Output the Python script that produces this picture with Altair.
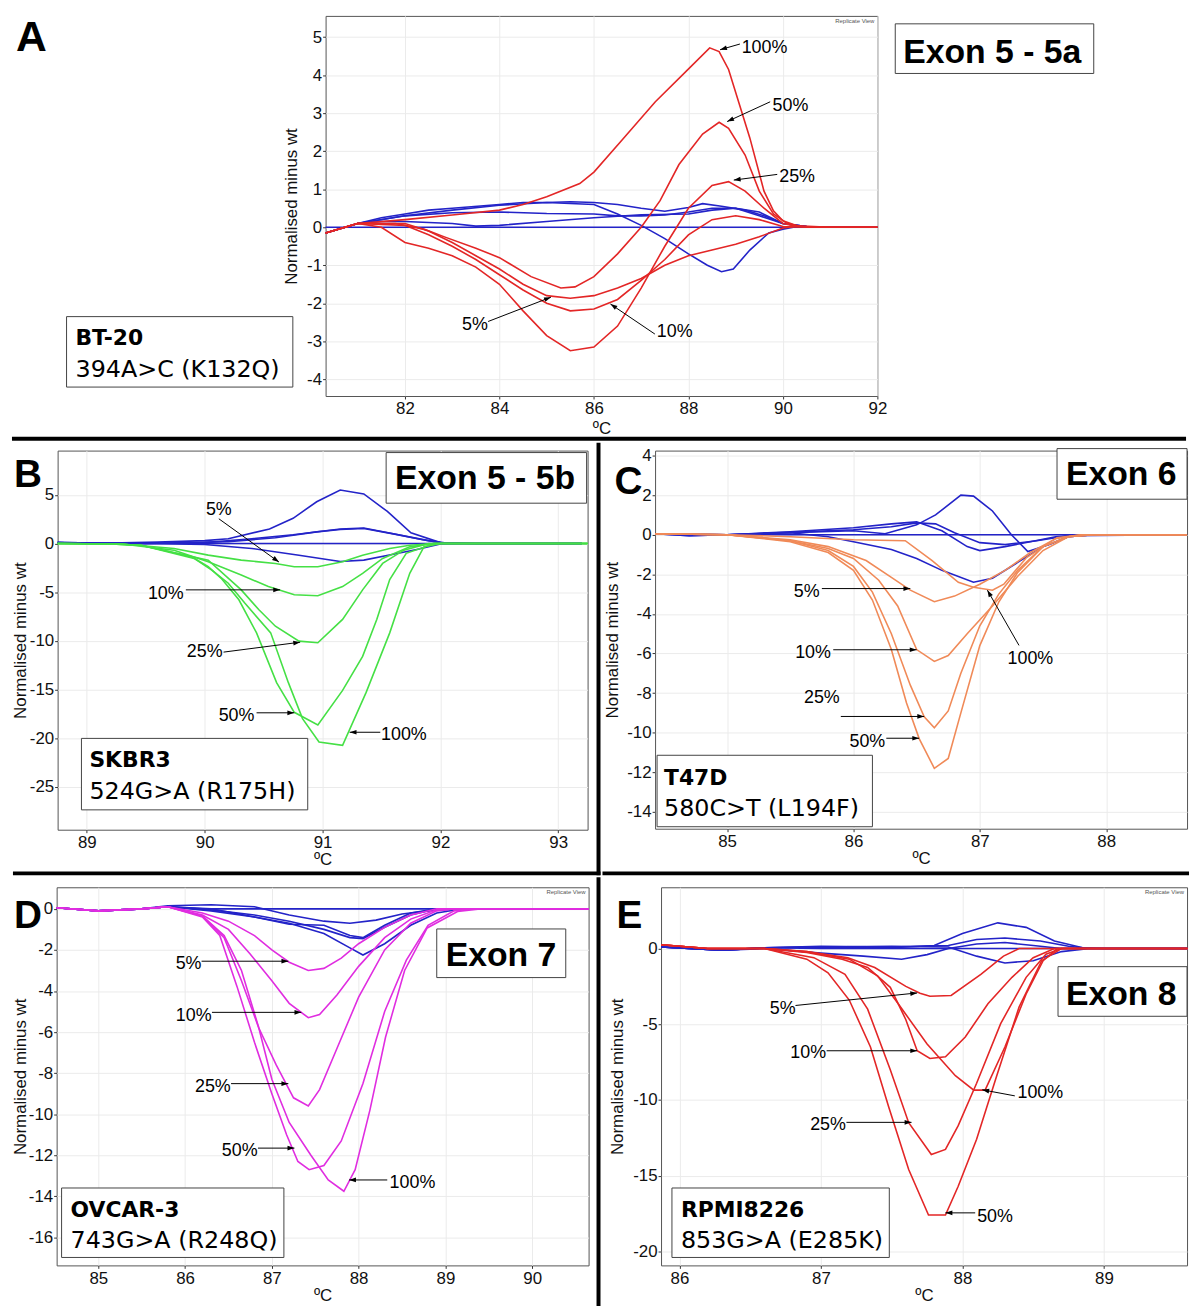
import math
import altair as alt
import pandas as pd

# ======================= DATA =======================
# ---- Panel A (Exon 5 - 5a, BT-20) ----
A_X_TICKS = [82, 84, 86, 88, 90, 92]
A_Y_TICKS = [-4, -3, -2, -1, 0, 1, 2, 3, 4, 5]
A_MUT_100 = [(80.32, -0.15), (81.0, 0.1), (82.0, 0.2), (83.0, 0.32), (84.0, 0.45), (84.5, 0.6), (85.0, 0.8),
             (85.7, 1.15), (86.0, 1.45), (86.6, 2.3), (87.3, 3.3), (87.95, 4.1), (88.45, 4.72), (88.65, 4.62),
             (88.85, 4.15), (89.3, 2.35), (89.6, 0.95), (89.8, 0.43), (90.0, 0.17), (90.3, 0.04), (91.0, 0.0),
             (92.0, 0.0)]
A_MUT_50 = [(80.32, -0.15), (81.0, 0.1), (81.8, 0.1), (82.4, -0.05), (82.85, -0.26), (83.5, -0.55), (84.0, -0.8),
            (84.67, -1.3), (85.3, -1.6), (85.6, -1.57), (86.0, -1.3), (86.5, -0.7), (87.0, 0.0), (87.4, 0.7),
            (87.8, 1.65), (88.3, 2.45), (88.65, 2.76), (88.85, 2.6), (89.2, 1.9), (89.5, 0.95), (89.8, 0.35),
            (90.1, 0.09), (90.5, 0.0), (92.0, 0.0)]
A_MUT_25 = [(80.32, -0.15), (81.0, 0.1), (81.5, 0.0), (82.0, -0.4), (82.5, -0.55), (83.0, -0.75), (83.5, -1.05),
            (84.0, -1.5), (84.5, -2.2), (85.0, -2.85), (85.5, -3.25), (86.0, -3.15), (86.5, -2.6), (87.0, -1.6),
            (87.5, -0.5), (88.0, 0.5), (88.5, 1.1), (88.85, 1.2), (89.2, 0.95), (89.6, 0.5), (90.0, 0.1),
            (90.3, 0.02), (91.0, 0.0), (92.0, 0.0)]
A_MUT_10 = [(80.32, -0.15), (81.0, 0.1), (82.0, 0.05), (82.5, -0.2), (83.0, -0.5), (83.5, -0.85), (84.0, -1.25),
            (84.5, -1.65), (85.0, -2.0), (85.5, -2.2), (86.0, -2.15), (86.5, -1.9), (87.0, -1.4), (87.5, -0.85),
            (88.0, -0.2), (88.5, 0.2), (89.0, 0.3), (89.5, 0.2), (90.0, 0.02), (91.0, 0.0), (92.0, 0.0)]
A_MUT_5 = [(80.32, -0.15), (81.0, 0.1), (82.0, 0.1), (82.5, -0.1), (83.0, -0.4), (83.5, -0.75), (84.0, -1.1),
           (84.5, -1.5), (85.0, -1.8), (85.5, -1.87), (86.0, -1.8), (86.5, -1.6), (87.0, -1.35), (87.5, -1.0),
           (88.0, -0.75), (88.5, -0.6), (89.0, -0.45), (89.5, -0.25), (90.0, -0.02), (90.3, 0.02), (91.0, 0.0),
           (92.0, 0.0)]
A_WT_1 = [(80.32, 0.0), (86.0, 0.0), (92.0, 0.0)]
A_WT_2 = [(80.32, -0.15), (81.0, 0.1), (81.5, 0.25), (82.0, 0.35), (82.5, 0.45), (83.0, 0.5), (84.0, 0.6),
          (84.5, 0.65), (85.0, 0.65), (85.5, 0.67), (86.0, 0.65), (86.5, 0.6), (87.0, 0.5), (87.5, 0.42),
          (88.0, 0.52), (88.3, 0.62), (88.7, 0.55), (89.2, 0.45), (89.6, 0.3), (90.0, 0.1), (90.5, 0.02), (92.0, 0.0)]
A_WT_3 = [(80.32, -0.15), (81.0, 0.1), (82.0, 0.3), (83.0, 0.38), (84.0, 0.4), (85.0, 0.36), (86.0, 0.35),
          (86.5, 0.3), (87.0, 0.3), (87.5, 0.32), (88.0, 0.4), (88.5, 0.5), (89.0, 0.5), (89.5, 0.4), (90.0, 0.1),
          (90.5, 0.02), (92.0, 0.0)]
A_WT_4 = [(80.32, -0.15), (81.0, 0.1), (81.5, 0.15), (82.0, 0.15), (83.0, 0.1), (83.5, 0.03), (84.0, 0.05),
          (85.0, 0.15), (86.0, 0.25), (87.0, 0.33), (88.0, 0.35), (88.5, 0.45), (89.0, 0.5), (89.5, 0.3),
          (90.0, 0.1), (90.5, 0.02), (92.0, 0.0)]
A_WT_5 = [(80.32, -0.15), (81.0, 0.1), (82.0, 0.3), (83.0, 0.45), (84.0, 0.58), (85.0, 0.65), (86.0, 0.6),
          (86.5, 0.35), (87.0, 0.05), (87.5, -0.3), (88.0, -0.7), (88.4, -1.0), (88.7, -1.17), (88.95, -1.1),
          (89.3, -0.6), (89.7, -0.15), (90.0, -0.05), (90.3, 0.02), (91.0, 0.0), (92.0, 0.0)]
A_ARROWS = [(89.09, 4.82, 88.67, 4.67), (89.73, 3.3, 88.82, 2.78), (89.88, 1.39, 88.96, 1.24),
            (83.76, -2.48, 85.09, -1.84), (87.29, -2.81, 86.35, -2.02)]
A_LABELS = [("100%", 89.61, 4.71), ("50%", 90.16, 3.2), ("25%", 90.3, 1.33), ("5%", 83.48, -2.56),
            ("10%", 87.71, -2.76)]

# ---- Panel B (Exon 5 - 5b, SKBR3) ----
B_X_TICKS = [89, 90, 91, 92, 93]
B_Y_TICKS = [5, 0, -5, -10, -15, -20, -25]
B_MUT_100 = [(88.752, 0.0), (89.2, -0.05), (89.46, -0.17), (89.91, -1.53), (90.06, -2.72), (90.2, -4.08),
             (90.34, -6.12), (90.56, -9.18), (90.71, -14.3), (90.83, -18.0), (90.97, -20.4), (91.17, -20.75),
             (91.37, -15.3), (91.57, -9.18), (91.74, -3.06), (91.86, -0.34), (92.0, 0.0), (93.249, 0.0)]
B_MUT_50 = [(88.752, 0.0), (89.2, -0.05), (89.46, -0.17), (89.89, -1.36), (90.03, -2.38), (90.14, -3.57),
            (90.29, -5.78), (90.44, -9.18), (90.61, -14.3), (90.76, -17.35), (90.96, -18.64), (91.17, -15.1),
            (91.34, -11.6), (91.46, -7.8), (91.57, -3.7), (91.71, -1.0), (91.95, 0.0), (93.249, 0.0)]
B_MUT_25 = [(88.752, 0.0), (89.2, -0.05), (89.46, -0.17), (90.03, -1.7), (90.31, -4.76), (90.46, -6.8),
            (90.6, -8.5), (90.8, -10.03), (90.96, -10.2), (91.17, -7.8), (91.34, -4.76), (91.51, -2.04),
            (91.69, -0.68), (91.9, 0.0), (93.249, 0.0)]
B_MUT_10 = [(88.752, 0.0), (89.3, -0.05), (89.74, -0.68), (90.03, -1.87), (90.31, -3.23), (90.54, -4.42),
            (90.76, -5.27), (90.96, -5.37), (91.17, -4.42), (91.34, -3.06), (91.51, -1.53), (91.74, -0.34),
            (91.95, 0.0), (93.249, 0.0)]
B_MUT_5 = [(88.752, 0.0), (89.3, -0.05), (89.74, -0.5), (90.03, -1.19), (90.31, -1.7), (90.6, -2.04),
           (90.76, -2.38), (90.96, -2.38), (91.17, -1.87), (91.34, -1.19), (91.57, -0.51), (91.74, -0.17),
           (91.95, 0.0), (93.249, 0.0)]
B_WT_1 = [(88.752, 0.1), (89.0, 0.0), (91.0, 0.0), (93.2, 0.0)]
B_WT_2 = [(88.752, 0.1), (89.0, 0.0), (89.6, 0.15), (90.0, 0.3), (90.2, 0.5), (90.55, 1.5), (90.75, 2.6),
          (90.95, 4.3), (91.15, 5.5), (91.35, 5.1), (91.55, 3.3), (91.75, 1.1), (92.0, 0.1), (92.3, 0.0), (93.2, 0.0)]
B_WT_3 = [(88.752, 0.1), (89.5, 0.0), (90.0, 0.1), (90.4, 0.5), (90.75, 0.9), (91.15, 1.5), (91.35, 1.6),
          (91.6, 1.0), (91.85, 0.4), (92.0, 0.1), (92.3, 0.0), (93.2, 0.0)]
B_WT_4 = [(88.752, 0.1), (89.5, 0.0), (90.2, 0.2), (90.6, 0.6), (90.95, 1.2), (91.15, 1.45), (91.35, 1.55),
          (91.6, 1.0), (91.9, 0.3), (92.05, 0.05), (93.2, 0.0)]
B_WT_5 = [(88.752, 0.1), (89.5, 0.0), (90.0, -0.1), (90.4, -0.5), (90.8, -1.2), (91.15, -1.85), (91.35, -1.7),
          (91.6, -1.1), (91.8, -0.6), (92.0, -0.05), (93.2, 0.0)]
B_ARROWS = [(90.12, 2.55, 90.63, -1.9), (89.84, -4.76, 90.64, -4.76), (90.16, -11.16, 90.81, -10.14),
            (90.44, -17.4, 90.76, -17.4), (91.49, -19.4, 91.23, -19.4)]
B_LABELS = [("5%", 90.12, 3.4), ("10%", 89.67, -5.17), ("25%", 90.0, -11.2), ("50%", 90.27, -17.75),
            ("100%", 91.69, -19.7)]

# ---- Panel C (Exon 6, T47D) ----
C_X_TICKS = [85, 86, 87, 88]
C_Y_TICKS = [4, 2, 0, -2, -4, -6, -8, -10, -12, -14]
C_MUT_100 = [(84.43, 0.05), (85.0, 0.0), (85.5, -0.1), (86.0, -0.25), (86.41, -0.3), (86.62, -1.3), (86.83, -2.4),
             (86.95, -2.65), (87.1, -2.8), (87.19, -2.5), (87.37, -1.15), (87.61, -0.15), (87.8, 0.0), (88.64, 0.0)]
C_MUT_50 = [(84.43, 0.05), (85.0, 0.0), (85.5, -0.35), (85.8, -0.9), (86.0, -1.8), (86.15, -3.3), (86.3, -5.8),
            (86.42, -8.5), (86.52, -10.3), (86.64, -11.8), (86.75, -11.3), (86.85, -9.0), (87.0, -5.6),
            (87.15, -3.4), (87.3, -1.9), (87.5, -0.6), (87.7, -0.1), (87.9, 0.0), (88.64, 0.0)]
C_MUT_25 = [(84.43, 0.05), (85.0, 0.0), (85.5, -0.3), (85.8, -0.8), (86.0, -1.6), (86.15, -2.9), (86.3, -5.0),
            (86.45, -7.6), (86.56, -9.2), (86.64, -9.75), (86.75, -8.9), (86.85, -7.0), (87.0, -4.6),
            (87.15, -3.0), (87.3, -1.8), (87.5, -0.6), (87.7, -0.1), (87.9, 0.0), (88.64, 0.0)]
C_MUT_10 = [(84.43, 0.05), (85.0, 0.0), (85.5, -0.3), (85.8, -0.7), (86.0, -1.2), (86.2, -2.3), (86.35, -3.6),
            (86.5, -5.8), (86.64, -6.4), (86.75, -6.1), (86.9, -5.0), (87.1, -3.6), (87.3, -2.1), (87.5, -0.8),
            (87.7, -0.1), (87.9, 0.0), (88.64, 0.0)]
C_MUT_5 = [(84.43, 0.05), (85.0, 0.0), (85.5, -0.25), (85.8, -0.6), (86.1, -1.3), (86.3, -2.15), (86.45, -2.8),
           (86.64, -3.38), (86.8, -3.1), (87.0, -2.5), (87.2, -1.8), (87.4, -0.9), (87.6, -0.2), (87.8, 0.0),
           (88.64, 0.0)]
C_WT_1 = [(84.43, 0.05), (84.7, -0.05), (85.0, 0.0), (88.64, 0.0)]
C_WT_2 = [(84.43, 0.05), (84.7, -0.05), (85.0, 0.0), (85.5, 0.1), (86.0, 0.2), (86.25, 0.05), (86.5, 0.5),
          (86.65, 1.0), (86.85, 2.0), (86.95, 1.95), (87.1, 1.2), (87.25, 0.0), (87.38, -0.85), (87.55, -0.5),
          (87.7, -0.1), (87.9, 0.0), (88.64, 0.0)]
C_WT_3 = [(84.43, 0.05), (85.0, 0.0), (85.5, 0.15), (86.0, 0.35), (86.3, 0.55), (86.5, 0.65), (86.7, 0.2),
          (86.9, -0.6), (87.0, -0.8), (87.2, -0.6), (87.4, -0.35), (87.6, -0.1), (87.8, 0.0), (88.64, 0.0)]
C_WT_4 = [(84.43, 0.05), (85.0, 0.0), (85.5, 0.1), (85.8, -0.1), (86.0, -0.35), (86.3, -0.75), (86.5, -1.2),
          (86.7, -1.8), (86.95, -2.4), (87.1, -2.2), (87.3, -1.4), (87.5, -0.6), (87.7, -0.1), (87.9, 0.0),
          (88.64, 0.0)]
C_WT_5 = [(84.43, 0.05), (85.0, 0.0), (85.5, 0.12), (86.0, 0.25), (86.3, 0.4), (86.5, 0.6), (86.65, 0.55),
          (86.8, 0.1), (87.0, -0.4), (87.2, -0.5), (87.45, -0.3), (87.7, -0.05), (88.64, 0.0)]
C_ARROWS = [(85.75, -2.72, 86.45, -2.72), (85.84, -5.81, 86.5, -5.81), (85.9, -9.18, 86.56, -9.18),
            (86.26, -10.28, 86.52, -10.28), (87.31, -5.59, 87.06, -2.8)]
C_LABELS = [("5%", 85.63, -2.89), ("10%", 85.68, -5.98), ("25%", 85.75, -8.23), ("50%", 86.11, -10.48),
            ("100%", 87.4, -6.28)]

# ---- Panel D (Exon 7, OVCAR-3) ----
D_X_TICKS = [85, 86, 87, 88, 89, 90]
D_Y_TICKS = [0, -2, -4, -6, -8, -10, -12, -14, -16]
D_MUT_100 = [(84.52, 0.05), (85.0, -0.1), (85.5, 0.0), (85.8, 0.1), (86.2, -0.35), (86.45, -1.3), (86.65, -3.0),
             (86.85, -5.8), (87.0, -8.3), (87.2, -10.4), (87.45, -12.0), (87.65, -13.2), (87.83, -13.75),
             (87.96, -12.7), (88.13, -9.8), (88.31, -6.25), (88.53, -3.0), (88.79, -0.93), (89.14, -0.13),
             (89.4, 0.0), (90.65, 0.0)]
D_MUT_50 = [(84.52, 0.05), (85.0, -0.1), (85.5, 0.0), (85.8, 0.1), (86.2, -0.4), (86.4, -1.3), (86.6, -3.8),
            (86.8, -6.5), (87.0, -9.0), (87.17, -11.0), (87.3, -12.3), (87.43, -12.7), (87.6, -12.5), (87.8, -11.3),
            (88.05, -8.5), (88.3, -5.0), (88.55, -2.5), (88.8, -0.8), (89.1, -0.1), (89.3, 0.0), (90.65, 0.0)]
D_MUT_25 = [(84.52, 0.05), (85.0, -0.1), (85.5, 0.0), (85.8, 0.1), (86.2, -0.35), (86.45, -1.4), (86.65, -3.5),
            (86.85, -5.8), (87.05, -7.6), (87.25, -9.2), (87.42, -9.6), (87.55, -8.8), (87.75, -6.8), (88.0, -4.3),
            (88.3, -2.0), (88.6, -0.7), (88.9, -0.1), (89.1, 0.0), (90.65, 0.0)]
D_MUT_10 = [(84.52, 0.05), (85.0, -0.1), (85.5, 0.0), (85.8, 0.1), (86.2, -0.3), (86.5, -1.0), (86.75, -2.2),
            (87.0, -3.5), (87.2, -4.6), (87.42, -5.3), (87.55, -5.15), (87.75, -4.2), (88.0, -2.8), (88.3, -1.4),
            (88.6, -0.5), (88.9, -0.05), (89.1, 0.0), (90.65, 0.0)]
D_MUT_5 = [(84.52, 0.05), (85.0, -0.1), (85.5, 0.0), (85.8, 0.1), (86.2, -0.2), (86.5, -0.6), (86.8, -1.3),
           (87.0, -2.0), (87.2, -2.6), (87.42, -3.0), (87.6, -2.9), (87.8, -2.4), (88.0, -1.7), (88.3, -0.9),
           (88.6, -0.3), (88.9, 0.0), (90.65, 0.0)]
D_WT_1 = [(84.52, 0.05), (85.0, -0.1), (85.5, 0.0), (85.8, 0.1), (86.2, 0.0), (90.65, 0.0)]
D_WT_2 = [(84.52, 0.05), (85.0, -0.1), (85.5, 0.0), (85.8, 0.15), (86.3, 0.2), (86.8, 0.1), (87.2, -0.3),
          (87.6, -0.6), (87.9, -0.7), (88.2, -0.55), (88.5, -0.25), (88.9, -0.05), (89.3, 0.0), (90.65, 0.0)]
D_WT_3 = [(84.52, 0.05), (85.0, -0.1), (85.5, 0.0), (85.8, 0.1), (86.3, -0.05), (86.8, -0.3), (87.2, -0.6),
          (87.6, -1.0), (87.9, -1.4), (88.05, -1.45), (88.3, -0.9), (88.6, -0.3), (88.9, 0.0), (90.65, 0.0)]
D_WT_4 = [(84.52, 0.05), (85.0, -0.1), (85.5, 0.0), (85.8, 0.1), (86.3, 0.0), (86.8, -0.4), (87.2, -0.75),
          (87.6, -0.8), (87.9, -1.3), (88.05, -1.4), (88.3, -0.8), (88.6, -0.2), (88.9, 0.0), (90.65, 0.0)]
D_WT_5 = [(84.52, 0.05), (85.0, -0.1), (85.5, 0.0), (85.8, 0.1), (86.3, -0.1), (86.8, -0.4), (87.2, -0.7),
          (87.6, -1.2), (87.9, -1.9), (88.05, -2.25), (88.3, -1.7), (88.6, -0.8), (88.9, -0.2), (89.2, 0.0),
          (90.65, 0.0)]
D_ARROWS = [(86.19, -2.55, 87.19, -2.55), (86.31, -5.04, 87.34, -5.04), (86.53, -8.51, 87.19, -8.51),
            (86.84, -11.65, 87.26, -11.65), (88.33, -13.2, 87.89, -13.2)]
D_LABELS = [("5%", 86.04, -2.71), ("10%", 86.1, -5.2), ("25%", 86.32, -8.67), ("50%", 86.63, -11.8),
            ("100%", 88.62, -13.37)]

# ---- Panel E (Exon 8, RPMI8226) ----
E_X_TICKS = [86, 87, 88, 89]
E_Y_TICKS = [0, -5, -10, -15, -20]
E_MUT_100 = [(85.87, 0.25), (86.2, 0.0), (86.6, 0.0), (86.9, -0.2), (87.2, -0.7), (87.4, -1.8), (87.55, -3.7),
             (87.75, -6.3), (87.95, -8.4), (88.08, -9.35), (88.16, -9.35), (88.3, -6.5), (88.45, -3.0),
             (88.57, -0.8), (88.67, 0.0), (89.59, 0.0)]
E_MUT_50 = [(85.87, 0.25), (86.2, 0.0), (86.6, 0.0), (86.9, -0.7), (87.05, -1.6), (87.2, -3.4), (87.35, -6.5),
            (87.48, -10.5), (87.62, -14.6), (87.76, -17.6), (87.88, -17.6), (87.97, -15.7), (88.1, -12.6),
            (88.24, -8.46), (88.4, -3.87), (88.56, -0.8), (88.7, 0.0), (89.59, 0.0)]
E_MUT_25 = [(85.87, 0.25), (86.2, 0.0), (86.6, 0.0), (86.95, -0.6), (87.17, -1.7), (87.33, -4.0), (87.49, -8.0),
            (87.62, -11.5), (87.78, -13.6), (87.88, -13.27), (87.97, -11.7), (88.1, -8.9), (88.27, -4.96),
            (88.45, -1.9), (88.59, -0.37), (88.7, 0.0), (89.59, 0.0)]
E_MUT_10 = [(85.87, 0.25), (86.2, 0.0), (86.6, 0.0), (86.9, -0.25), (87.15, -0.7), (87.33, -1.25), (87.49, -2.56),
            (87.6, -4.7), (87.68, -6.75), (87.77, -7.26), (87.88, -7.15), (88.02, -5.84), (88.18, -3.65),
            (88.35, -1.9), (88.5, -0.6), (88.65, 0.0), (89.59, 0.0)]
E_MUT_5 = [(85.87, 0.25), (86.2, 0.0), (86.6, 0.0), (86.9, -0.2), (87.19, -0.6), (87.38, -1.25), (87.6, -2.5),
           (87.7, -2.95), (87.77, -3.15), (87.92, -3.1), (88.13, -1.7), (88.29, -0.5), (88.4, 0.0), (89.59, 0.0)]
E_WT_1 = [(85.87, 0.1), (86.3, -0.1), (86.6, 0.05), (87.0, 0.0), (89.59, 0.0)]
E_WT_2 = [(85.87, 0.1), (86.3, -0.1), (86.6, 0.05), (87.0, 0.1), (87.5, 0.05), (87.8, 0.2), (88.0, 1.0),
          (88.25, 1.7), (88.45, 1.4), (88.65, 0.5), (88.85, 0.05), (89.0, 0.0), (89.59, 0.0)]
E_WT_3 = [(85.87, 0.1), (86.3, -0.1), (86.6, 0.05), (87.0, 0.15), (87.5, 0.1), (87.9, 0.2), (88.1, 0.6),
          (88.3, 0.7), (88.55, 0.5), (88.75, 0.15), (88.9, 0.0), (89.59, 0.0)]
E_WT_4 = [(85.87, 0.1), (86.3, -0.1), (86.6, 0.0), (87.0, -0.3), (87.3, -0.5), (87.57, -0.7), (87.75, -0.4),
          (87.9, 0.0), (88.1, 0.3), (88.3, 0.4), (88.5, 0.2), (88.7, 0.0), (89.59, 0.0)]
E_WT_5 = [(85.87, 0.1), (86.3, -0.1), (86.6, 0.05), (87.0, 0.1), (87.5, 0.15), (87.9, 0.1), (88.1, -0.5),
          (88.3, -0.95), (88.5, -0.8), (88.7, -0.2), (88.9, 0.0), (89.59, 0.0)]
E_ARROWS = [(86.82, -3.76, 87.68, -2.93), (87.04, -6.75, 87.68, -6.75), (87.18, -11.48, 87.64, -11.48),
            (88.09, -17.46, 87.88, -17.46), (88.37, -9.73, 88.14, -9.33)]
E_LABELS = [("5%", 86.73, -3.98), ("10%", 86.91, -6.93), ("25%", 87.05, -11.63), ("50%", 88.23, -17.75),
            ("100%", 88.55, -9.55)]

# ---- text labels ----
X_TITLE = "ºC"
Y_TITLE = "Normalised minus wt"
EXON_TEXT = {"A": "Exon 5 - 5a", "B": "Exon 5 - 5b", "C": "Exon 6", "D": "Exon 7", "E": "Exon 8"}
CELL_LINE = {"A": "BT-20", "B": "SKBR3", "C": "T47D", "D": "OVCAR-3", "E": "RPMI8226"}
MUTATION = {"A": "394A>C (K132Q)", "B": "524G>A (R175H)", "C": "580C>T (L194F)",
            "D": "743G>A (R248Q)", "E": "853G>A (E285K)"}

# ======================= STYLE / LAYOUT =======================
BLUE = "#2323C8"
MUT_COLOR = {"A": "#E32626", "B": "#45E045", "C": "#F08A58", "D": "#E02DE0", "E": "#E32626"}
FONT = "Liberation Sans"
BOXFONT = "DejaVu Sans"
HEAD_PATH = "M0,0L0.55,1.6L-0.55,1.6Z"

# local pixel layout (relative to each plot area's top-left corner)
LAYOUT = {
    "A": dict(W=556, H=383, xdom=(80.32, 92.0), ydom=(-4.44, 5.56), xticks=A_X_TICKS, yticks=A_Y_TICKS,
              wt=[A_WT_1, A_WT_2, A_WT_3, A_WT_4, A_WT_5], mut=[A_MUT_100, A_MUT_50, A_MUT_25, A_MUT_10, A_MUT_5],
              arrows=A_ARROWS, labels=A_LABELS,
              frame=(-316, -2, 867, 428), bars=[(-316, 424, 867, 428)],
              letter=(-312, 35, 43), exon_box=(574, 8, 774, 58), exon_txt=(582, 47),
              cell_box=(-261, 303, -33, 374), cell_txt=(-252, 332, 364), xty=25, ytx=-34.5, repl=(553, 5)),
    "B": dict(W=534, H=382, xdom=(88.752, 93.249), ydom=(-29.42, 9.56), xticks=B_X_TICKS, yticks=B_Y_TICKS,
              wt=[B_WT_1, B_WT_2, B_WT_3, B_WT_4, B_WT_5], mut=[B_MUT_100, B_MUT_50, B_MUT_25, B_MUT_10, B_MUT_5],
              arrows=B_ARROWS, labels=B_LABELS,
              frame=(-45, -8, 547, 428), bars=[(543, -8, 547, 428), (-45, 424, 547, 428)],
              letter=(-44, 37, 39), exon_box=(331, 2, 533, 53), exon_txt=(340, 39),
              cell_box=(24, 290, 252, 362), cell_txt=(32, 319, 351), xty=22, ytx=-37, repl=None),
    "C": dict(W=536, H=381, xdom=(84.43, 88.64), ydom=(-14.85, 4.25), xticks=C_X_TICKS, yticks=C_Y_TICKS,
              wt=[C_WT_1, C_WT_2, C_WT_3, C_WT_4, C_WT_5], mut=[C_MUT_100, C_MUT_50, C_MUT_25, C_MUT_10, C_MUT_5],
              arrows=C_ARROWS, labels=C_LABELS,
              frame=(-53, -8, 538, 428), bars=[(-53, 424, 538, 428)],
              letter=(-41, 44, 39), exon_box=(405, -2, 536, 49), exon_txt=(414, 35),
              cell_box=(2, 307, 219, 379), cell_txt=(9, 337, 368), xty=22, ytx=-43, repl=None),
    "D": dict(W=536, H=381, xdom=(84.52, 90.65), ydom=(-17.36, 1.05), xticks=D_X_TICKS, yticks=D_Y_TICKS,
              wt=[D_WT_1, D_WT_2, D_WT_3, D_WT_4, D_WT_5], mut=[D_MUT_100, D_MUT_50, D_MUT_25, D_MUT_10, D_MUT_5],
              arrows=D_ARROWS, labels=D_LABELS,
              frame=(-44, -10, 548, 422), bars=[(544, -10, 548, 422)],
              letter=(-43, 41, 39), exon_box=(383, 42, 513, 91), exon_txt=(392, 79),
              cell_box=(5, 303, 229, 373), cell_txt=(14, 332, 363), xty=22, ytx=-36, repl=(533, 5)),
    "E": dict(W=530, H=381, xdom=(85.87, 89.587), ydom=(-20.93, 4.05), xticks=E_X_TICKS, yticks=E_Y_TICKS,
              wt=[E_WT_1, E_WT_2, E_WT_3, E_WT_4, E_WT_5], mut=[E_MUT_100, E_MUT_50, E_MUT_25, E_MUT_10, E_MUT_5],
              arrows=E_ARROWS, labels=E_LABELS,
              frame=(-59, -10, 532, 422), bars=[],
              letter=(-45, 41, 39), exon_box=(400, 80, 530, 130), exon_txt=(408, 119),
              cell_box=(11, 303, 230, 373), cell_txt=(20, 332, 363), xty=22, ytx=-44, repl=(527, 5)),
}

MINUS_FIX = "replace(datum.label, '\u2212', '-')"


def curves_df(curves):
    rows = []
    for sid, pts in enumerate(curves):
        for i, (x, y) in enumerate(pts):
            rows.append({"x": x, "y": y, "s": sid, "i": i})
    return pd.DataFrame(rows)


def build_panel(key):
    L = LAYOUT[key]
    W, H = L["W"], L["H"]
    x0, x1 = L["xdom"]
    y0, y1 = L["ydom"]
    sx = W / (x1 - x0)
    sy = H / (y1 - y0)

    def px(p):
        return x0 + p / sx

    def py(p):
        return y1 - p / sy

    xscale = alt.Scale(domain=[x0, x1], nice=False, zero=False)
    yscale = alt.Scale(domain=[y0, y1], nice=False, zero=False)
    xaxis = alt.Axis(values=L["xticks"], format="d", title=X_TITLE, titleX=W / 2, titleY=L["xty"],
                     titleBaseline="top", titleAlign="center", labelFlush=False, labelOverlap=False,
                     tickSize=3, labelPadding=2, labelExpr=MINUS_FIX)
    yaxis = alt.Axis(values=L["yticks"], format="d", title=Y_TITLE, titleX=L["ytx"], titleY=H / 2,
                     titleAngle=270, titleBaseline="middle", titleAlign="center", labelFlush=False,
                     labelOverlap=False, tickSize=3, labelPadding=1, labelExpr=MINUS_FIX)

    def X():
        return alt.X("x:Q", scale=xscale, axis=xaxis)

    def Y():
        return alt.Y("y:Q", scale=yscale, axis=yaxis)

    def rect_df(boxes):
        return pd.DataFrame([{"x": px(b[0]), "y": py(b[1]), "x2": px(b[2]), "y2": py(b[3])} for b in boxes])

    layers = []
    # invisible frame that fixes this panel's cell size in the grid
    layers.append(alt.Chart(rect_df([L["frame"]])).mark_rect(opacity=0).encode(
        x=X(), y=Y(), x2="x2:Q", y2="y2:Q"))
    # wild-type (blue) and mutant curves
    layers.append(alt.Chart(curves_df(L["wt"])).mark_line(color=BLUE, strokeWidth=1.6).encode(
        x=X(), y=Y(), detail="s:N", order="i:Q"))
    layers.append(alt.Chart(curves_df(L["mut"])).mark_line(color=MUT_COLOR[key], strokeWidth=1.6).encode(
        x=X(), y=Y(), detail="s:N", order="i:Q"))
    # arrows
    arr = pd.DataFrame([{"x": a[0], "y": a[1], "x2": a[2], "y2": a[3]} for a in L["arrows"]])
    layers.append(alt.Chart(arr).mark_rule(color="black", strokeWidth=1).encode(
        x=X(), y=Y(), x2="x2:Q", y2="y2:Q"))
    heads = []
    for (tx, ty, hx, hy) in L["arrows"]:
        dx = (hx - tx) * sx
        dy = -(hy - ty) * sy
        ang = math.degrees(math.atan2(dx, -dy)) % 360
        heads.append({"x": hx, "y": hy, "a": ang})
    layers.append(alt.Chart(pd.DataFrame(heads)).mark_point(
        shape=HEAD_PATH, filled=True, color="black", opacity=1, size=75, strokeWidth=0).encode(
        x=X(), y=Y(), angle=alt.Angle("a:Q", scale=None)))
    lab = pd.DataFrame([{"t": t, "x": x, "y": y} for (t, x, y) in L["labels"]])
    layers.append(alt.Chart(lab).mark_text(font=FONT, fontSize=18, align="center", baseline="middle",
                                           color="black").encode(x=X(), y=Y(), text="t:N"))
    # boxes
    layers.append(alt.Chart(rect_df([L["exon_box"], L["cell_box"]])).mark_rect(
        fill="white", stroke="#444444", strokeWidth=1).encode(x=X(), y=Y(), x2="x2:Q", y2="y2:Q"))
    ex = pd.DataFrame([{"t": EXON_TEXT[key], "x": px(L["exon_txt"][0]), "y": py(L["exon_txt"][1])}])
    layers.append(alt.Chart(ex).mark_text(font=FONT, fontSize=34, fontWeight="bold", align="left",
                                          baseline="alphabetic", color="black").encode(x=X(), y=Y(), text="t:N"))
    cx, cy1, cy2 = L["cell_txt"]
    c1 = pd.DataFrame([{"t": CELL_LINE[key], "x": px(cx), "y": py(cy1)}])
    layers.append(alt.Chart(c1).mark_text(font=BOXFONT, fontSize=22, fontWeight="bold", align="left",
                                          baseline="alphabetic", color="black").encode(x=X(), y=Y(), text="t:N"))
    c2 = pd.DataFrame([{"t": MUTATION[key], "x": px(cx), "y": py(cy2)}])
    layers.append(alt.Chart(c2).mark_text(font=BOXFONT, fontSize=24, align="left",
                                          baseline="alphabetic", color="black").encode(x=X(), y=Y(), text="t:N"))
    lx, ly, lsize = L["letter"]
    let = pd.DataFrame([{"t": key, "x": px(lx), "y": py(ly)}])
    layers.append(alt.Chart(let).mark_text(font=FONT, fontSize=lsize, fontWeight="bold", align="left",
                                           baseline="alphabetic", color="black").encode(x=X(), y=Y(), text="t:N"))
    if L["repl"] is not None:
        rp = pd.DataFrame([{"t": "Replicate View", "x": px(L["repl"][0]), "y": py(L["repl"][1])}])
        layers.append(alt.Chart(rp).mark_text(font=FONT, fontSize=6, align="right", baseline="middle",
                                              color="#555555").encode(x=X(), y=Y(), text="t:N"))
    if L["bars"]:
        layers.append(alt.Chart(rect_df(L["bars"])).mark_rect(fill="black", strokeWidth=0).encode(
            x=X(), y=Y(), x2="x2:Q", y2="y2:Q"))
    return alt.layer(*layers).properties(width=W, height=H)


def spacer():
    # a 1px invisible cell that anchors every row at the same left edge
    return alt.Chart(pd.DataFrame({"k": [0]})).mark_point(opacity=0, size=1).encode(
        x=alt.value(0.5), y=alt.value(0.5)
    ).properties(width=1, height=1, view=alt.ViewBackground(stroke="transparent"))


chart = alt.vconcat(
    alt.hconcat(spacer(), build_panel("A"), spacing=0),
    alt.hconcat(spacer(), build_panel("B"), build_panel("C"), spacing=0),
    alt.hconcat(spacer(), build_panel("D"), build_panel("E"), spacing=0),
    spacing=0,
).properties(
    padding={"left": 0, "right": 0, "top": 0, "bottom": 0}
).configure(
    background="white"
).configure_view(
    stroke="#555555", strokeWidth=1
).configure_axis(
    labelFont=FONT, labelFontSize=17, labelColor="#111111",
    titleFont=FONT, titleFontSize=17, titleFontWeight="normal", titleColor="#111111",
    tickColor="#333333", domain=False, gridColor="#ebebeb", gridWidth=1,
)

chart.save("out.html", embed_options={"renderer": "svg", "actions": False})
